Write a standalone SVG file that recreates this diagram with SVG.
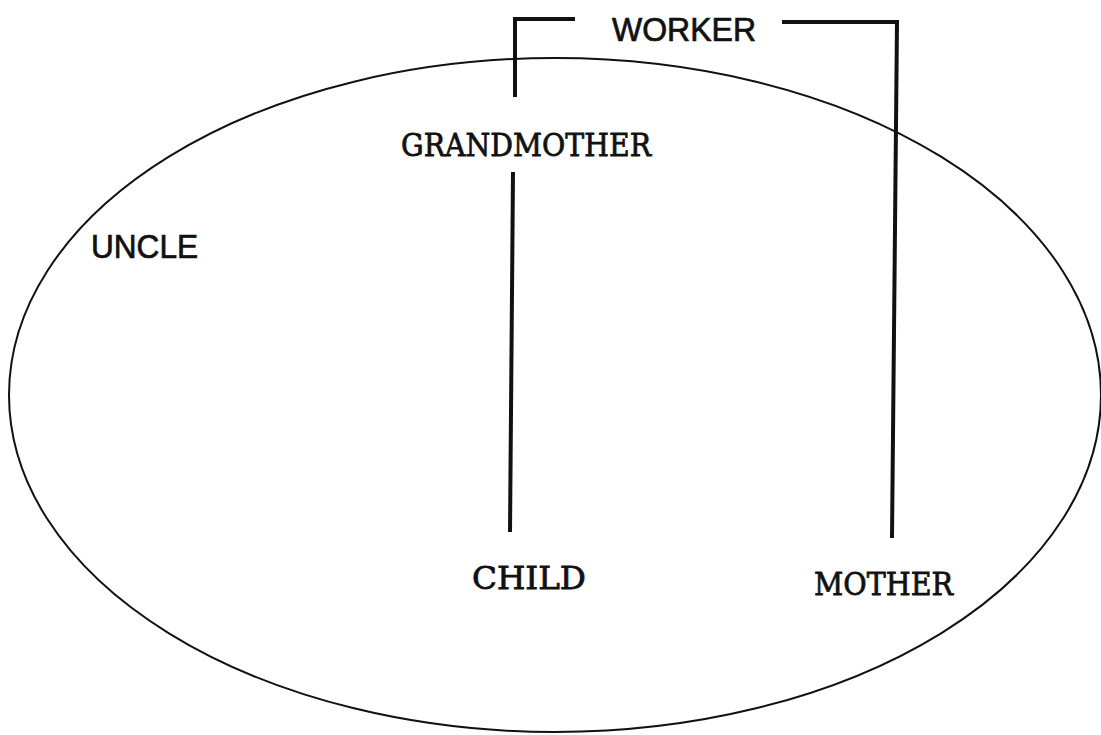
<svg xmlns="http://www.w3.org/2000/svg" width="1101" height="735" viewBox="0 0 1101 735">
<style>
.sans{font-family:"Liberation Sans",Arial,sans-serif;font-size:33px;fill:#111;stroke:#111;stroke-width:0.7;}
.mono{font-family:"DejaVu Serif","Liberation Serif",serif;font-size:32px;fill:#111;stroke:#111;stroke-width:0.8;}
.conn{fill:none;stroke:#111;stroke-width:4;stroke-linecap:butt;stroke-linejoin:miter;}
</style>
<rect width="1101" height="735" fill="#fff"/>
<g id="family-ellipse">
<ellipse cx="555" cy="395" rx="546" ry="337" fill="none" stroke="#111" stroke-width="2"/>
</g>
<g id="connectors">
<path class="conn" d="M515,97 L515,19 L575,19"/>
<path class="conn" d="M782,22 L897,22 L892,538"/>
<path class="conn" d="M513,172 L510,532"/>
</g>
<g id="worker"><text class="sans" x="612" y="41" textLength="144" lengthAdjust="spacingAndGlyphs">WORKER</text></g>
<g id="uncle"><text class="sans" x="91" y="258" textLength="107" lengthAdjust="spacingAndGlyphs">UNCLE</text></g>
<g id="grandmother"><text class="mono" x="401" y="156" textLength="250" lengthAdjust="spacingAndGlyphs">GRANDMOTHER</text></g>
<g id="child"><text class="mono" x="472" y="589" textLength="114" lengthAdjust="spacingAndGlyphs">CHILD</text></g>
<g id="mother"><text class="mono" x="814" y="595" textLength="139" lengthAdjust="spacingAndGlyphs">MOTHER</text></g>
</svg>
